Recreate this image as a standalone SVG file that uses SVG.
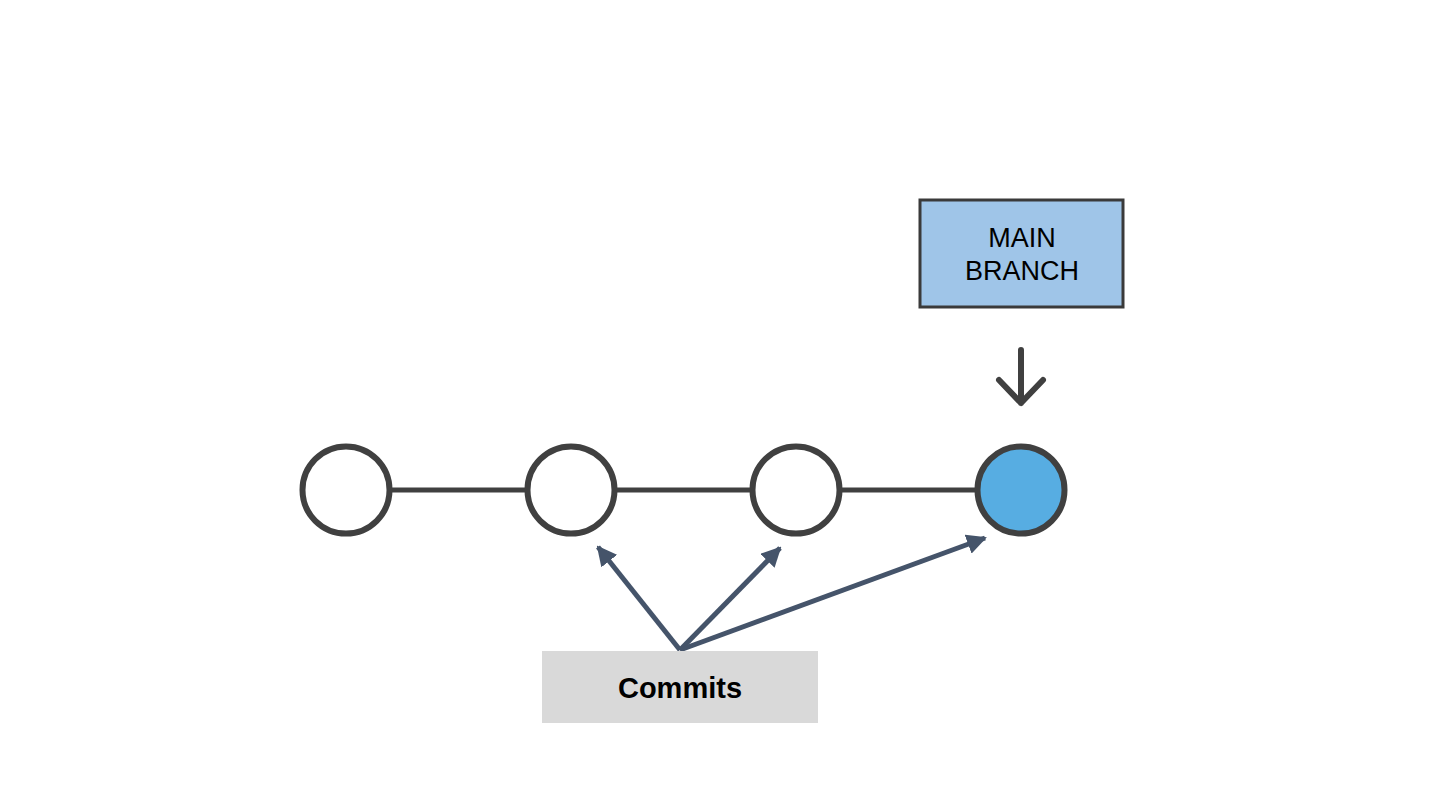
<svg xmlns="http://www.w3.org/2000/svg" width="1440" height="810" viewBox="0 0 1440 810">
<style>
.link{stroke:#404040;stroke-width:5;fill:none}
.commit{fill:#ffffff;stroke:#404040;stroke-width:6}
.head{fill:#57ade2;stroke:#404040;stroke-width:6}
.ptr{stroke:#45546a;stroke-width:5;fill:none}
.lbl{font-family:"Liberation Sans",Arial,sans-serif;fill:#000;text-anchor:middle}
</style>
<defs>
<marker id="ah" viewBox="0 0 10 10" refX="9" refY="5" markerWidth="4" markerHeight="4" orient="auto" markerUnits="strokeWidth">
<path d="M0,0 L10,5 L0,10 z" fill="#45546a"/>
</marker>
</defs>
<rect width="1440" height="810" fill="#ffffff"/>
<g id="connectors">
<line class="link" x1="390" y1="490" x2="527" y2="490"/>
<line class="link" x1="615" y1="490" x2="752" y2="490"/>
<line class="link" x1="840" y1="490" x2="977" y2="490"/>
<path d="M1021,350 L1021,403 M999,380 L1021,403 L1043,380" stroke="#404040" stroke-width="6" fill="none" stroke-linecap="round" stroke-linejoin="round"/>
<line class="ptr" x1="680" y1="650" x2="598" y2="547" marker-end="url(#ah)"/>
<line class="ptr" x1="680" y1="650" x2="780" y2="548" marker-end="url(#ah)"/>
<line class="ptr" x1="680" y1="650" x2="985" y2="538" marker-end="url(#ah)"/>
</g>
<g id="c1"><circle class="commit" cx="346" cy="490" r="43.5"/></g>
<g id="c2"><circle class="commit" cx="571" cy="490" r="43.5"/></g>
<g id="c3"><circle class="commit" cx="796" cy="490" r="43.5"/></g>
<g id="c4"><circle class="head" cx="1021" cy="490" r="43.5"/></g>
<g id="main-branch">
<rect x="920" y="200" width="203" height="107" fill="#9fc5e8" stroke="#3a3a3a" stroke-width="3"/>
<text class="lbl" x="1022" y="247" font-size="27">MAIN</text>
<text class="lbl" x="1022" y="280" font-size="27">BRANCH</text>
</g>
<g id="commits">
<rect x="542" y="651" width="276" height="72" fill="#d9d9d9"/>
<text class="lbl" x="680" y="698" font-size="29" font-weight="bold">Commits</text>
</g>
</svg>
